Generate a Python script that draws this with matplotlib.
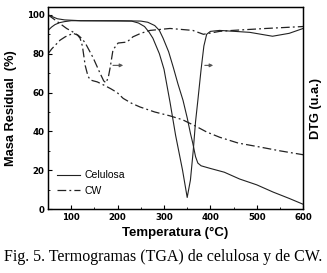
import numpy as np
import matplotlib
matplotlib.use("Agg")
import matplotlib.pyplot as plt
from matplotlib.ticker import MultipleLocator

# TGA celulosa (masa residual, %)
t_tga_cel = [50, 60, 70, 86, 120, 200, 250, 265, 280, 290, 298, 310, 320, 330, 341,
             350, 357, 362, 368, 373, 380, 399, 430, 463, 500, 535, 570, 600]
m_tga_cel = [100, 99, 98, 97.4, 97, 97, 96.8, 96.2, 94.5, 92, 88, 81, 73, 64.5, 56,
             47, 39, 34, 27, 23.7, 22.3, 21, 19, 15.5, 12.5, 8.8, 5.5, 2.5]

# DTG celulosa (u.a.)
t_dtg_cel = [50, 58, 65, 75, 85, 100, 230, 245, 258, 268, 276, 290, 300, 313, 325,
             340, 350, 357, 363, 368, 373, 380, 386, 392, 400, 420, 485, 534, 570, 600]
d_dtg_cel = [92, 93.8, 95, 96, 96.5, 97, 96.8, 95.8, 94, 91, 88, 80, 72, 55, 38,
             20, 6, 15, 30, 45, 56, 72, 84, 90, 91.5, 92, 91, 89, 90.5, 93]

# TGA CW
t_tga_cw = [50, 70, 90, 105, 113, 119, 124, 130, 136, 141, 148, 156, 169, 185, 199,
            212, 230, 248, 280, 313, 340, 370, 392, 420, 460, 506, 550, 600]
m_tga_cw = [100, 96.5, 93, 91, 89.7, 88, 84, 74, 68.5, 66.5, 66, 65.5, 64, 62, 60,
            57, 54.5, 52.6, 50, 48, 46, 42.5, 39.7, 37, 34, 32, 30, 28]

# DTG CW
t_dtg_cw = [50, 58, 66, 76, 87, 104, 115, 122, 130, 147, 162, 170, 175, 180, 184,
            190, 201, 220, 233, 250, 270, 313, 362, 385, 420, 448, 520, 600]
d_dtg_cw = [80, 82.5, 84.5, 87, 88.7, 90.5, 89.5, 88, 85.6, 78, 70, 66, 65, 68, 73,
            82, 85.5, 86, 88.7, 90.5, 92, 93, 92, 90, 91.5, 92, 93, 94]

lc = "#222222"
dashdot = (0, (7, 2.5, 1.5, 2.5))

fig = plt.figure(figsize=(3.27, 2.73), dpi=100)
ax = fig.add_axes([0.147, 0.234, 0.78, 0.74])
ax2 = ax.twinx()

ax.plot(t_tga_cel, m_tga_cel, color=lc, lw=0.8, ls="-", label="Celulosa")
ax.plot(t_tga_cw, m_tga_cw, color=lc, lw=0.9, ls=dashdot, label="CW")
ax2.plot(t_dtg_cel, d_dtg_cel, color=lc, lw=0.8, ls="-")
ax2.plot(t_dtg_cw, d_dtg_cw, color=lc, lw=0.9, ls=dashdot)

ax.set_xlim(50, 600)
ax.set_ylim(0, 104)
ax2.set_ylim(0, 104)
ax2.set_yticks([])

ax.xaxis.set_major_locator(MultipleLocator(100))
ax.xaxis.set_minor_locator(MultipleLocator(50))
ax.yaxis.set_major_locator(MultipleLocator(20))
ax.yaxis.set_minor_locator(MultipleLocator(10))
ax.tick_params(which="both", direction="in", top=False, right=False)
ax.tick_params(which="major", length=3, width=0.8, labelsize=6.2, pad=2.5)
ax.tick_params(which="minor", length=1.5, width=0.6)
for lab in ax.get_xticklabels() + ax.get_yticklabels():
    lab.set_fontweight("bold")
for sp in list(ax.spines.values()) + list(ax2.spines.values()):
    sp.set_linewidth(0.9)

ax.set_xlabel("Temperatura (°C)", fontsize=9.5, fontweight="bold",
              family="Liberation Sans", labelpad=4)
ax.set_ylabel("Masa Residual  (%)", fontsize=9.2, fontweight="bold",
              family="Liberation Sans", labelpad=7)
ax2.set_ylabel("DTG (u.a.)", fontsize=9.2, fontweight="bold",
               family="Liberation Sans", labelpad=5)

# flechas hacia el eje DTG
arr = dict(arrowstyle="-|>", color="#555555", lw=0.8, mutation_scale=5)
ax.annotate("", xy=(218, 74), xytext=(184, 74), arrowprops=arr)
ax.annotate("", xy=(412, 74), xytext=(382, 74), arrowprops=arr)

ax.legend(loc="lower left", bbox_to_anchor=(0.0, 0.02), frameon=False,
          prop={"family": "Liberation Sans", "size": 7.5}, handlelength=2.2,
          handletextpad=0.4, labelspacing=0.5)

fig.text(0.012, 0.045, "Fig. 5. Termogramas (TGA) de celulosa y de CW.",
         family="Liberation Serif", fontsize=11.5)

fig.savefig("out.png", dpi=100)
